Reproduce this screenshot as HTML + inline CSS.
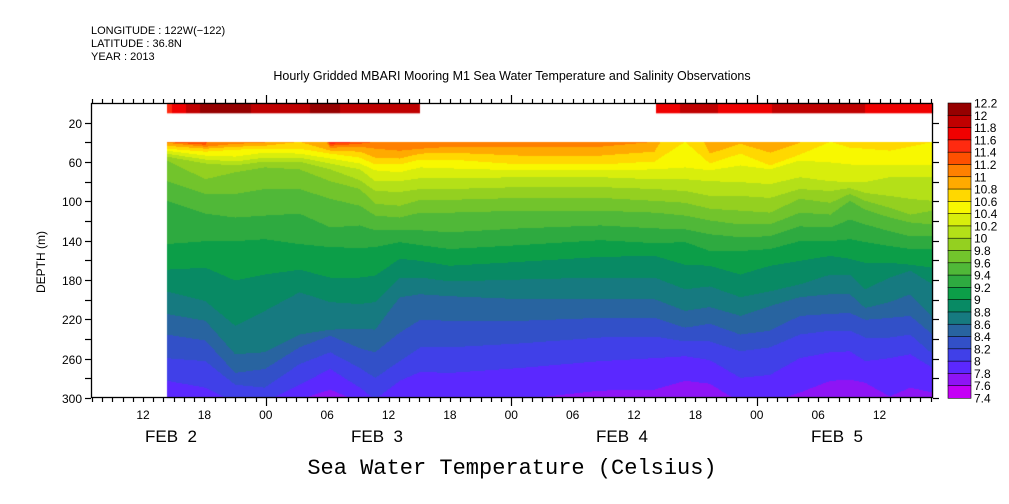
<!DOCTYPE html>
<html><head><meta charset="utf-8">
<style>
html,body{margin:0;padding:0;background:#fff;}
#wrap{position:relative;width:1009px;height:504px;overflow:hidden;}
canvas,svg{position:absolute;left:0;top:0;}
text{font-family:"Liberation Sans",sans-serif;fill:#000;}
</style></head>
<body>
<div id="wrap">
<canvas id="cv" width="1009" height="504"></canvas>
<svg id="sv" width="1009" height="504">
<text x="91" y="34" font-size="11">LONGITUDE : 122W(−122)</text>
<text x="91" y="47" font-size="11">LATITUDE : 36.8N</text>
<text x="91" y="60" font-size="11">YEAR : 2013</text>
<text x="512" y="80" font-size="12.5" text-anchor="middle">Hourly Gridded MBARI Mooring M1 Sea Water Temperature and Salinity Observations</text>
<text x="512" y="474" font-size="22" text-anchor="middle" style="font-family:'Liberation Mono',monospace">Sea Water Temperature (Celsius)</text>
<text transform="translate(45,262) rotate(-90)" font-size="12" text-anchor="middle">DEPTH (m)</text>
<g id="axes"></g>
</svg>
</div>
<script>
// ---- data: hours since Feb 2 00:00 ----
const hours = [14.3,18.1,21,23.9,27.3,30.3,33.2,34.7,37.1,39.1,42,48.9,56.7,62,65,67.4,70.4,73.3,76.2,79.2,81.1,82.6,85,87,89.2];
// isotherm depths (m) per time column
const iso120 = [0,0,0,0,0,0,0,0,0,0,0,0,0,0,0,0,0,0,0,0,0,0,0,0,0];
const iso118 = [0,0,0,0,0,0,0,0,0,0,0,0,0,0,0,0,0,0,0,0,0,0,0,0,0];
const iso116 = [0,39,0,0,0,40,0,0,0,0,0,0,0,0,0,0,0,0,0,0,0,0,0,0,0];
const iso114 = [0,41,0,0,0,42,40,0,0,0,0,0,0,0,0,0,0,0,0,0,0,0,0,0,0];
const iso112 = [40,43,0,0,0,44,42,40,0,0,0,0,0,0,0,0,0,0,0,0,0,0,0,0,0];
const iso110 = [41,45,42,41,0,46,45,47,49,47,45,45,45,40,0,0,0,40,0,0,0,0,0,0,0];
const iso108 = [44,47,45,44,40,49,50,56,57,52,51,54,54,50,0,52,42,51,41,0,40,40,40,0,0];
const iso106 = [47,50,48,47,47,52,56,63,63,58,58,63,63,60,40,62,52,64,53,40,46,47,49,45,40];
const iso104 = [49,54,55,51,52,57,62,69,71,66,67,69,69,68,66,69,64,68,59,61,63,64,64,64,64];
const iso102 = [52,58,60,56,56,62,68,80,80,77,77,76,76,78,78,80,81,83,76,80,81,81,76,76,76];
const iso100 = [55,62,64,60,60,68,79,90,91,88,88,86,86,88,90,95,95,97,88,90,87,92,95,98,100];
const iso98 = [59,78,71,66,68,80,88,103,105,99,99,97,97,100,102,108,110,112,98,102,93,100,107,114,110];
const iso96 = [80,93,93,88,88,98,105,115,117,112,112,110,110,112,115,120,124,124,112,114,100,109,117,122,124];
const iso94 = [100,113,117,115,113,127,125,130,130,130,132,128,125,128,129,134,137,136,126,127,119,124,131,136,136];
const iso92 = [144,141,141,139,144,147,148,147,142,145,149,145,140,143,142,151,151,149,141,141,139,142,146,149,149];
const iso90 = [170,168,181,175,170,178,178,176,159,161,166,162,157,156,165,166,175,166,161,156,159,163,163,165,168];
const iso88 = [192,202,227,212,193,203,205,203,178,178,182,180,178,178,190,187,198,192,185,175,175,190,178,171,185];
const iso86 = [215,222,256,254,236,231,230,231,198,195,197,200,200,200,212,208,217,207,198,195,195,209,203,195,219];
const iso84 = [236,242,275,271,249,237,250,254,234,221,222,222,219,219,229,225,236,232,217,215,214,221,219,217,236];
const iso82 = [260,263,287,290,266,254,270,280,263,249,249,245,239,238,243,243,253,249,236,232,232,239,239,236,256];
const iso80 = [283,290,305,305,287,271,290,302,283,274,275,270,263,260,258,262,280,277,260,254,253,263,260,256,270];
const iso78 = [305,305,310,310,302,292,305,310,305,305,305,302,293,292,283,286,305,305,295,283,282,285,299,290,295];
const iso76 = [320,320,320,320,320,320,320,320,320,320,320,320,320,320,320,320,320,320,320,320,320,320,320,320,320];
// surface (0-10 m) segments
const surfStart = [14.35,14.83,16.2,17.57,22.56,28.32,31.26,62.15,64.49,68.21,73.49,82.58];
const surfEnd   = [14.83,16.2,17.57,22.56,28.32,31.26,39.08,64.49,68.21,73.49,82.58,89.23];
const surfTemp  = [11.5,11.7,11.9,12.1,11.9,12.05,11.9,11.7,11.9,11.7,11.9,11.7];
// colour scale
const levels = [12.0,11.8,11.6,11.4,11.2,11.0,10.8,10.6,10.4,10.2,10.0,9.8,9.6,9.4,9.2,9.0,8.8,8.6,8.4,8.2,8.0,7.8,7.6];
const cbLabels = ["12.2","12","11.8","11.6","11.4","11.2","11","10.8","10.6","10.4","10.2","10","9.8","9.6","9.4","9.2","9","8.8","8.6","8.4","8.2","8","7.8","7.6","7.4"];
const bandColors = ["#960000","#c00000","#f00000","#ff2a10","#ff5000","#ff8000","#ffaa00","#ffd800","#f8f800","#d8ee0c","#b4e018","#94d020","#72c42c","#50b838","#2eaa40","#0c9e48","#088a64","#167a80","#2864a0","#3250c8","#4040e8","#5b28ff","#8e14f5","#c400f5"];
const isoArrays = [iso120,iso118,iso116,iso114,iso112,iso110,iso108,iso106,iso104,iso102,iso100,iso98,iso96,iso94,iso92,iso90,iso88,iso86,iso84,iso82,iso80,iso78,iso76];
const depthTicks = [20,40,60,80,100,120,140,160,180,200,220,240,260,280,300];
const hourLabels = ["12","18","00","06","12","18","00","06","12","18","00","06","12"];
const dayLabels = ["FEB  2","FEB  3","FEB  4","FEB  5"];
const dayLabelX = [171,377,622,837];

// ---- axis functions ----
const X0=91, X1=933, Y0=103, Y1=398;
function xOf(h){ return 143 + (h-12)*10.23; }
function hOf(x){ return 12 + (x-143)/10.23; }
function yOf(d){ return Y0 + d*(Y1-Y0)/300; }
function bandOf(T){ return levels.filter(L => L > T).length; }

const cv=document.getElementById('cv'); const ctx=cv.getContext('2d');
const dataTop=40;
const xs=Math.round(xOf(hours[0])), xe=Math.round(xOf(hours[hours.length-1]));
for(let px=xs; px<xe; px++){
  const h=hOf(px+0.5);
  let j=0; while(j<hours.length-2 && h>hours[j+1]) j++;
  let t=(h-hours[j])/(hours[j+1]-hours[j]); t=Math.max(0,Math.min(1,t));
  let prev=-1e9; const d=[];
  for(const a of isoArrays){ let v=a[j]+(a[j+1]-a[j])*t; v=Math.max(v,prev); d.push(v); prev=v; }
  for(let k=0;k<=levels.length;k++){
    const top=Math.max(dataTop, k===0?-1e9:d[k-1]);
    const bot=Math.min(300, k===levels.length?1e9:d[k]);
    if(bot<=top) continue;
    ctx.fillStyle=bandColors[k];
    const ya=yOf(top), yb=yOf(bot);
    ctx.fillRect(px, Math.floor(ya), 1, Math.ceil(yb)-Math.floor(ya));
  }
}
for(let i=0;i<surfTemp.length;i++){
  ctx.fillStyle=bandColors[bandOf(surfTemp[i])];
  const a=xOf(surfStart[i]), b=xOf(surfEnd[i]);
  ctx.fillRect(Math.round(a), yOf(0), Math.round(b)-Math.round(a), yOf(10.5)-yOf(0));
}

// ---- axes (SVG) ----
const NS='http://www.w3.org/2000/svg';
const g=document.getElementById('axes');
function el(tag,attrs){ const e=document.createElementNS(NS,tag); for(const k in attrs) e.setAttribute(k,attrs[k]); g.appendChild(e); return e; }
const frame=el('rect',{x:X0+0.5,y:Y0+0.5,width:X1-X0-1,height:Y1-Y0-1,fill:'none',stroke:'#000','stroke-width':1.3});


for(let h=7; h<=89; h++){
  const x=Math.round(xOf(h))+0.5; const major=(h%24===0);
  const len=major?8:4;
  const tt=el('line',{x1:x,y1:Y0,x2:x,y2:Y0-len,stroke:'#000','stroke-width':1.2});
  
  
  const tb=el('line',{x1:x,y1:Y1,x2:x,y2:Y1+len,stroke:'#000','stroke-width':1.2});
  
  
}
hourLabels.forEach((s,i)=>{
  const t=el('text',{x:xOf(12+6*i),y:419,'font-size':12,'text-anchor':'middle'}); t.textContent=s;
  
  
});
dayLabels.forEach((s,i)=>{
  const t=el('text',{x:dayLabelX[i],y:442,'font-size':17,'text-anchor':'middle'}); t.textContent=s;
  t.style.whiteSpace='pre';
  
  
});
depthTicks.forEach((d,i)=>{
  const y=Math.round(yOf(d))+0.5;
  const tl=el('line',{x1:X0-6,y1:y,x2:X0,y2:y,stroke:'#000','stroke-width':1.2});
  
  
  const tr=el('line',{x1:X1,y1:y,x2:X1+6,y2:y,stroke:'#000','stroke-width':1.2});
  
  
  if(i%2===0){
    const t=el('text',{x:X0-9,y:y+4.5,'font-size':12,'text-anchor':'end'}); t.textContent=String(d);
    
    
  }
});
const cbX=948, cbW=23, cbTop=103, cbBot=398, cbH=(cbBot-cbTop)/bandColors.length;
bandColors.forEach((c,i)=>{
  const r=el('rect',{x:cbX,y:cbTop+i*cbH,width:cbW,height:cbH+0.3,fill:c,stroke:'#000','stroke-width':0.6});
  
  
});
cbLabels.forEach((s,i)=>{
  const t=el('text',{x:974,y:cbTop+i*cbH+4.5,'font-size':12}); t.textContent=s;
  
  
});
</script>
</body></html>
